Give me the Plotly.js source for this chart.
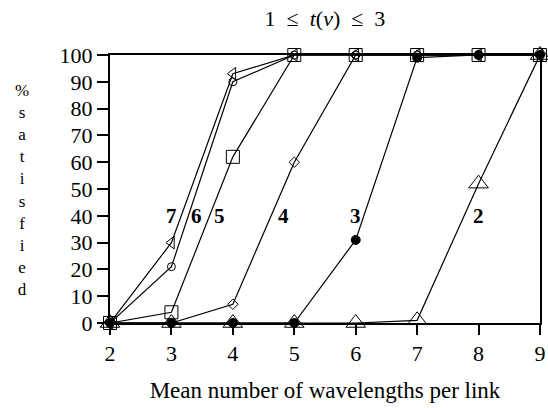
<!DOCTYPE html>
<html><head><meta charset="utf-8">
<script src="https://cdn.plot.ly/plotly-3.0.1.min.js"></script>
<style>html,body{margin:0;padding:0;background:#fff}#c{width:548px;height:408px}</style>
</head><body><div id="c"></div>
<script>
const xs = [2, 3, 4, 5, 6, 7, 8, 9];
const s7 = [0, 30, 93, 100, 100, 100, 100, 100];
const s6 = [0, 21, 90, 100, 100, 100, 100, 100];
const s5 = [0, 4, 62, 100, 100, 100, 100, 100];
const s4 = [0, 0, 7, 60, 100, 100, 100, 100];
const s3 = [0, 0, 0, 0, 31, 99, 100, 100];
const s2 = [0, 0, 0, 0, 0, 1, 52, 100];
const labels = ["7", "6", "5", "4", "3", "2"];
const labelX = [3.0, 3.4, 3.78, 4.82, 6.0, 8.0];
const labelY = [40, 40, 40, 40, 40, 40];
const yTicks = [0, 10, 20, 30, 40, 50, 60, 70, 80, 90, 100];
const xTicks = [2, 3, 4, 5, 6, 7, 8, 9];
const yLabelChars = ["%", "s", "a", "t", "i", "s", "f", "i", "e", "d"];

const serif = "Liberation Serif, DejaVu Serif, serif";
function tr(y, sym, size) {
  return {x: xs, y: y, mode: "lines+markers", type: "scatter", cliponaxis: false,
    line: {color: "#000", width: 1.2},
    marker: {symbol: sym, size: size, color: "#000",
             line: {color: "#000", width: 1}}, showlegend: false};
}
const data = [
  tr(s2, "triangle-up-open", 17),
  tr(s5, "square-open", 13),
  tr(s4, "diamond-open", 8),
  tr(s6, "circle-open", 8),
  tr(s7, "triangle-left-open", 11),
  tr(s3, "circle", 9)
];
const annotations = labels.map((t, i) => ({x: labelX[i], y: labelY[i], text: "<b>" + t + "</b>",
  showarrow: false, font: {family: serif, size: 21, color: "#000"}}));
annotations.push({xref: "paper", yref: "paper", x: (22 - 110) / 430, y: 1 - (190 - 55) / 268,
  xanchor: "center", yanchor: "middle", align: "center", text: yLabelChars.join("<br>"), showarrow: false,
  font: {family: serif, size: 17, color: "#000"}});
const layout = {
  width: 548, height: 408,
  margin: {l: 110, r: 8, t: 55, b: 85},
  paper_bgcolor: "#fff", plot_bgcolor: "#fff",
  font: {family: serif, size: 22, color: "#000"},
  title: {text: "1 &nbsp;≤&nbsp; <i>t</i>(<i>v</i>) &nbsp;≤&nbsp; 3", x: 0.593, xanchor: "center", y: 0.955, yanchor: "middle",
          font: {family: serif, size: 22, color: "#000"}},
  xaxis: {range: [2, 9], tickvals: xTicks, ticktext: xTicks.map(String), showgrid: false, zeroline: false,
          showline: true, linecolor: "#000", linewidth: 2, mirror: true,
          ticks: "outside", ticklen: 10, tickwidth: 2, tickcolor: "#000",
          tickfont: {family: serif, size: 22},
          title: {text: "Mean number of wavelengths per link", font: {family: serif, size: 23}, standoff: 16}},
  yaxis: {range: [0, 100], tickvals: yTicks, ticktext: yTicks.map(String), showgrid: false, zeroline: false,
          showline: true, linecolor: "#000", linewidth: 2, mirror: true,
          ticks: "outside", ticklen: 11, tickwidth: 2, tickcolor: "#000",
          tickfont: {family: serif, size: 22}},
  annotations: annotations
};
Plotly.newPlot("c", data, layout, {displayModeBar: false, staticPlot: true});
</script></body></html>
